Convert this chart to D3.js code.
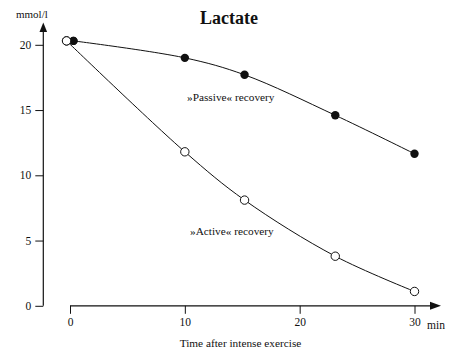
<!DOCTYPE html>
<html><head><meta charset="utf-8">
<script src="https://cdn.jsdelivr.net/npm/d3@7"></script>
<style>
html,body{margin:0;padding:0;background:#fff;}
svg{display:block;}
text{font-family:"Liberation Serif","Times New Roman",serif;fill:#111;}
</style></head>
<body>
<svg id="chart" width="454" height="357"></svg>
<script>
const title = "Lactate";
const yUnit = "mmol/l";
const xUnit = "min";
const xTitle = "Time after intense exercise";
const xTicks = [0, 10, 20, 30];
const yTicks = [0, 5, 10, 15, 20];
const passiveTime = [0.3, 10, 15.2, 23.1, 30];
const passiveLactate = [20.3, 19.0, 17.7, 14.6, 11.65];
const activeTime = [-0.3, 10, 15.2, 23.1, 30];
const activeLactate = [20.3, 11.8, 8.1, 3.8, 1.1];
const passiveLabel = "»Passive« recovery";
const activeLabel = "»Active« recovery";

const svg = d3.select("#chart");
const x = d3.scaleLinear().domain([0, 30]).range([70, 414.5]);
const y = d3.scaleLinear().domain([0, 20]).range([305.8, 44.8]);
const yAxisX = 43.3;
const baseY = y(0);
const serif = '"Liberation Serif","Times New Roman",serif';

// title
svg.append("text").attr("x", 229).attr("y", 24).attr("text-anchor", "middle")
  .style("font-size", "18px").style("font-weight", "bold").text(title);

// y axis
const yAxis = d3.axisLeft(y).tickValues(yTicks).tickSize(8).tickPadding(4).tickSizeOuter(0);
const gy = svg.append("g").attr("transform", `translate(${yAxisX},0)`).call(yAxis)
  .attr("font-family", serif).attr("font-size", 11.5);
gy.select(".domain").remove();
gy.selectAll("line").attr("stroke", "#111").attr("stroke-width", 1);
gy.selectAll("text").attr("fill", "#111");
svg.append("line").attr("x1", yAxisX).attr("x2", yAxisX).attr("y1", baseY).attr("y2", 30)
  .attr("stroke", "#111").attr("stroke-width", 1.2);
svg.append("path").attr("d", `M${yAxisX},22.5 L${yAxisX-3.8},32 L${yAxisX+3.8},32 Z`).attr("fill", "#111");
svg.append("text").attr("x", 16).attr("y", 18).style("font-size", "11px").text(yUnit);

// x axis
const xAxis = d3.axisBottom(x).tickValues(xTicks).tickSize(8).tickPadding(4).tickSizeOuter(0);
const gx = svg.append("g").attr("transform", `translate(0,${baseY})`).call(xAxis)
  .attr("font-family", serif).attr("font-size", 11.5);
gx.select(".domain").remove();
gx.selectAll("line").attr("stroke", "#111").attr("stroke-width", 1);
gx.selectAll("text").attr("fill", "#111");
svg.append("line").attr("x1", x(0)).attr("x2", 432).attr("y1", baseY).attr("y2", baseY)
  .attr("stroke", "#111").attr("stroke-width", 1.2);
svg.append("path").attr("d", `M441,${baseY} L430,${baseY-4} L430,${baseY+4} Z`).attr("fill", "#111");
svg.append("text").attr("x", 427).attr("y", 329).style("font-size", "11.5px").text(xUnit);
svg.append("text").attr("x", 240.5).attr("y", 347).attr("text-anchor", "middle")
  .style("font-size", "11.3px").text(xTitle);

// lines
const line = d3.line().x(d => x(d[0])).y(d => y(d[1])).curve(d3.curveCatmullRom.alpha(0.5));
const passive = passiveTime.map((t, i) => [t, passiveLactate[i]]);
const active = activeTime.map((t, i) => [t, activeLactate[i]]);
svg.append("path").datum(passive).attr("d", line).attr("fill", "none").attr("stroke", "#111").attr("stroke-width", 1);
svg.append("path").datum(active).attr("d", line).attr("fill", "none").attr("stroke", "#111").attr("stroke-width", 1);

svg.selectAll(".pas").data(passive).join("circle").attr("class", "pas")
  .attr("cx", d => x(d[0])).attr("cy", d => y(d[1])).attr("r", 4.2).attr("fill", "#111");
svg.selectAll(".act").data(active).join("circle").attr("class", "act")
  .attr("cx", d => x(d[0])).attr("cy", d => y(d[1])).attr("r", 4.2).attr("fill", "#fff")
  .attr("stroke", "#111").attr("stroke-width", 1);
svg.append("circle").datum(passive[0]).attr("cx", d => x(d[0])).attr("cy", d => y(d[1])).attr("r", 4.2).attr("fill", "#111");
svg.append("circle").datum(active[0]).attr("cx", d => x(d[0])).attr("cy", d => y(d[1])).attr("r", 4.2).attr("fill", "#fff").attr("stroke", "#111");

// labels
svg.append("text").attr("x", 187).attr("y", 101).style("font-size", "11.3px").text(passiveLabel);
svg.append("text").attr("x", 190).attr("y", 235).style("font-size", "11.3px").text(activeLabel);
</script>
</body></html>
